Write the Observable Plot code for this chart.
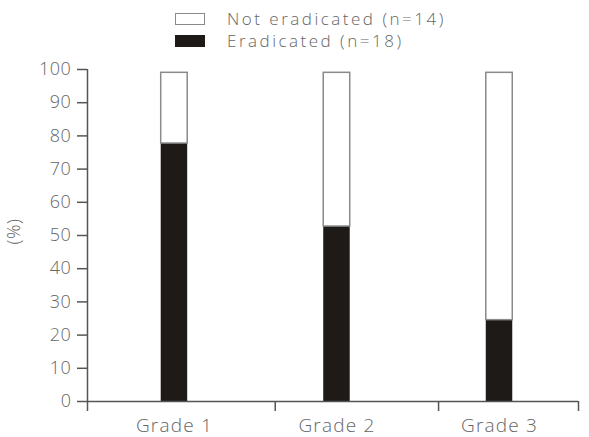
<!DOCTYPE html>
<html><head><meta charset="utf-8">
<script src="https://cdn.jsdelivr.net/npm/d3@7"></script>
<script src="https://cdn.jsdelivr.net/npm/@observablehq/plot@0.6"></script>
<style>
html,body{margin:0;padding:0;background:#fff;}
body{font-family:"Open Sans",sans-serif;width:589px;height:437px;overflow:hidden;}
#legend{position:relative;height:55px;width:589px;}
.row{position:absolute;left:175px;height:20px;line-height:20px;display:flex;align-items:center;font-size:17px;font-weight:300;color:#666;letter-spacing:2.5px;white-space:nowrap;}
.sw{width:30px;height:12px;box-sizing:border-box;margin-right:22px;flex:none;}
#chart svg text{font-weight:300;}
#chart g[aria-label="x-axis tick label"]{letter-spacing:1.2px;}
</style></head><body>
<div id="legend"></div>
<div id="chart"></div>
<script>
// ---- data ----
const grades = ["Grade 1", "Grade 2", "Grade 3"];
const eradicated = [77.7, 52.7, 24.5];      // % eradicated (black)
const notEradicated = [21.3, 46.3, 74.5];   // % not eradicated (white)
const seriesLabels = ["Not eradicated (n=14)", "Eradicated (n=18)"];
const yTicks = [0, 10, 20, 30, 40, 50, 60, 70, 80, 90, 100];
const gradePositions = [1, 2, 3];
const gradeBoundaries = [0.465, 1.62, 2.625, 3.486];
const yLabel = "(%)";

// ---- styles ----
const BLACK = "#1e1a17";
const OUTLINE = "#8a8a8a";
const AXIS = "#555";
const TEXT = "#666";
const half = 0.0815;

// legend
const legend = document.getElementById("legend");
const swatches = [
  {fill: "#fff", border: `1.5px solid ${OUTLINE}`, top: 9},
  {fill: BLACK, border: `1px solid ${BLACK}`, top: 30.5}
];
seriesLabels.forEach((lab, i) => {
  const row = document.createElement("div");
  row.className = "row";
  row.style.top = swatches[i].top + "px";
  const sw = document.createElement("div");
  sw.className = "sw";
  sw.style.background = swatches[i].fill;
  sw.style.border = swatches[i].border;
  const tx = document.createElement("span");
  tx.textContent = lab;
  row.appendChild(sw);
  row.appendChild(tx);
  legend.appendChild(row);
});

const rows = grades.map((g, i) => ({
  grade: g,
  pos: gradePositions[i],
  e: eradicated[i],
  n: notEradicated[i]
}));

const chart = Plot.plot({
  width: 589,
  height: 382,
  marginLeft: 87,
  marginRight: 11,
  marginTop: 14,
  marginBottom: 36,
  style: {fontFamily: "Open Sans, sans-serif", letterSpacing: "0.6px", background: "#fff"},
  x: {type: "linear", domain: [gradeBoundaries[0], gradeBoundaries[3]], axis: null},
  y: {domain: [0, 100], axis: null},
  marks: [
    Plot.rectY(rows, {x1: d => d.pos - half, x2: d => d.pos + half, y1: 0, y2: "e", fill: BLACK}),
    Plot.rectY(rows, {x1: d => d.pos - half, x2: d => d.pos + half, y1: "e", y2: d => d.e + d.n, fill: "#fff", stroke: OUTLINE, strokeWidth: 1.5}),
    Plot.ruleY([0], {stroke: AXIS, strokeWidth: 1.5}),
    Plot.ruleX([gradeBoundaries[0]], {y1: 0, y2: 100, stroke: AXIS, strokeWidth: 1.5}),
    Plot.axisY({ticks: yTicks, tickSize: 10, tickPadding: 6, label: null, fontSize: 18, color: TEXT, stroke: AXIS, strokeWidth: 1.5}),
    Plot.axisX({ticks: gradeBoundaries, tickSize: 10, tickFormat: () => "", label: null, stroke: AXIS, strokeWidth: 1.5}),
    Plot.axisX({ticks: gradePositions, tickSize: 0, tickPadding: 17, tickFormat: i => grades[i - 1], label: null, fontSize: 19, color: TEXT}),
    Plot.text([yLabel], {frameAnchor: "left", dx: -73, dy: 9, rotate: -90, fontSize: 18, fill: TEXT})
  ]
});
document.getElementById("chart").appendChild(chart);
</script>
</body></html>
